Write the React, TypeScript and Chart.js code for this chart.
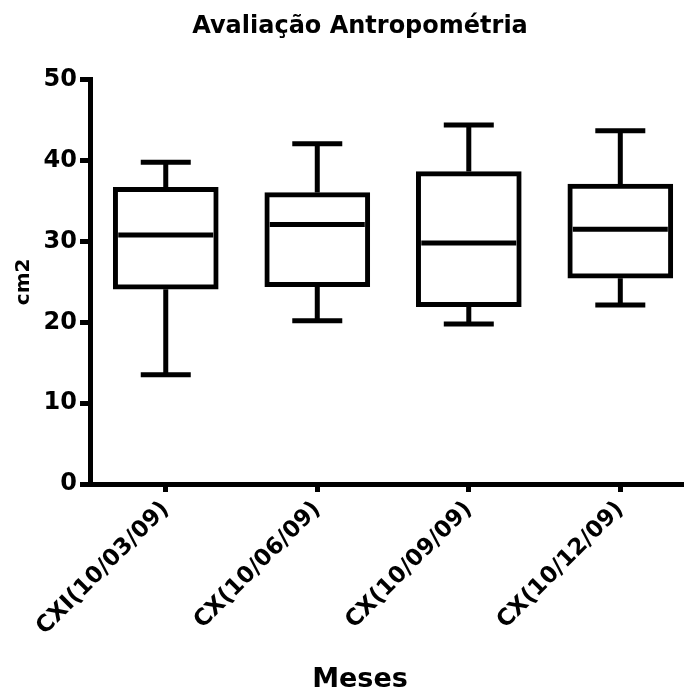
import React, { useEffect, useRef } from 'react';
import { Chart, registerables } from 'chart.js';

Chart.register(...registerables);

// ---- data ----
const categories = ['CXI(10/03/09)', 'CX(10/06/09)', 'CX(10/09/09)', 'CX(10/12/09)'];
const whiskerMin = [13.5, 20.2, 19.8, 22.15];
const quartile1 = [24.1, 24.4, 21.95, 25.45];
const medians = [30.8, 32.1, 29.8, 31.5];
const quartile3 = [36.7, 36.05, 38.65, 37.1];
const whiskerMax = [39.8, 42.1, 44.4, 43.7];
const yTickValues = [0, 10, 20, 30, 40, 50];

const FONT = "'DejaVu Sans', 'Liberation Sans', Arial, sans-serif";
const LINE = 5;
const BOX_WIDTH = 105;
const CAP_WIDTH = 50;

const boxPlotPlugin = {
  id: 'boxWhiskers',
  afterDatasetsDraw(chart: any) {
    const { ctx } = chart;
    const x = chart.scales.x;
    const y = chart.scales.y;
    ctx.save();
    ctx.strokeStyle = '#000';
    ctx.lineWidth = LINE;
    ctx.lineCap = 'butt';
    categories.forEach((_, i) => {
      const cx = x.getPixelForValue(i);
      const yMax = y.getPixelForValue(whiskerMax[i]);
      const yMin = y.getPixelForValue(whiskerMin[i]);
      const yQ3 = y.getPixelForValue(quartile3[i]);
      const yQ1 = y.getPixelForValue(quartile1[i]);
      const yMed = y.getPixelForValue(medians[i]);
      ctx.beginPath();
      ctx.moveTo(cx, yQ3);
      ctx.lineTo(cx, yMax);
      ctx.moveTo(cx, yQ1);
      ctx.lineTo(cx, yMin);
      ctx.moveTo(cx - CAP_WIDTH / 2, yMax);
      ctx.lineTo(cx + CAP_WIDTH / 2, yMax);
      ctx.moveTo(cx - CAP_WIDTH / 2, yMin);
      ctx.lineTo(cx + CAP_WIDTH / 2, yMin);
      ctx.moveTo(cx - BOX_WIDTH / 2 + LINE, yMed);
      ctx.lineTo(cx + BOX_WIDTH / 2 - LINE, yMed);
      ctx.stroke();
    });
    ctx.restore();
  },
  afterDraw(chart: any) {
    // continue the x axis line to the right edge of the canvas, as in the reference
    const { ctx, chartArea } = chart;
    const x = chart.scales.x;
    const yLine = typeof x._borderValue === 'number' ? x._borderValue : chart.scales.y.getPixelForValue(0);
    ctx.save();
    ctx.strokeStyle = '#000';
    ctx.lineWidth = LINE;
    ctx.lineCap = 'butt';
    ctx.beginPath();
    ctx.moveTo(chartArea.right - 3, yLine);
    ctx.lineTo(chart.width, yLine);
    ctx.stroke();
    ctx.restore();
  },
};

export default function App() {
  const canvasRef = useRef<HTMLCanvasElement | null>(null);

  useEffect(() => {
    const canvas = canvasRef.current;
    if (!canvas) return;
    const chart = new Chart(canvas, {
      type: 'bar',
      data: {
        datasets: [
          {
            data: categories.map((_, i) => ({ x: i, y: [quartile1[i], quartile3[i]] })) as any,
            backgroundColor: '#fff',
            borderColor: '#000',
            borderWidth: LINE,
            borderSkipped: false,
            barThickness: BOX_WIDTH,
            clip: false as any,
          },
        ],
      },
      options: {
        responsive: false,
        animation: false,
        devicePixelRatio: 1,
        layout: { padding: { left: 0, right: 54, top: 0, bottom: 0 } },
        plugins: {
          legend: { display: false },
          tooltip: { enabled: false },
          title: {
            display: true,
            fullSize: false,
            text: 'Avaliação Antropométria',
            color: '#000',
            font: { family: FONT, size: 24, weight: 'bold' },
            padding: { top: 12, bottom: 39 },
          },
        },
        scales: {
          x: {
            type: 'linear',
            min: -0.5,
            max: 3.064,
            offset: false,
            afterBuildTicks: (scale: any) => {
              scale.ticks = categories.map((_, i) => ({ value: i }));
            },
            afterFit: (scale: any) => {
              scale.height = 211;
            },
            ticks: {
              autoSkip: false,
              maxRotation: 45,
              minRotation: 45,
              padding: 4,
              color: '#000',
              font: { family: FONT, size: 23, weight: 'bold' },
              callback: (value: any) => categories[Number(value)] ?? '',
            },
            grid: {
              offset: false,
              drawOnChartArea: false,
              drawTicks: true,
              tickLength: 8,
              tickWidth: LINE,
              tickColor: '#000',
              color: '#000',
            },
            border: { display: true, color: '#000', width: LINE },
            title: {
              display: true,
              text: 'Meses',
              color: '#000',
              font: { family: FONT, size: 27, weight: 'bold', lineHeight: 1 },
              padding: { top: 0, bottom: 2 },
            },
          },
          y: {
            type: 'linear',
            min: 0,
            max: 50,
            afterBuildTicks: (scale: any) => {
              scale.ticks = yTickValues.map((v) => ({ value: v }));
            },
            afterFit: (scale: any) => {
              scale.width = 90;
            },
            ticks: {
              color: '#000',
              padding: 3,
              font: { family: FONT, size: 24, weight: 'bold' },
            },
            grid: {
              drawOnChartArea: false,
              drawTicks: true,
              tickLength: 10,
              tickWidth: LINE,
              tickColor: '#000',
              color: '#000',
            },
            border: { display: true, color: '#000', width: LINE },
            title: {
              display: true,
              text: 'cm2',
              color: '#000',
              font: { family: FONT, size: 20, weight: 'bold' },
              padding: { top: 12, bottom: 0 },
            },
          },
        },
      },
      plugins: [boxPlotPlugin],
    });
    return () => chart.destroy();
  }, []);

  return (
    <div style={{ position: 'fixed', left: 0, top: 0, width: 684, height: 695, background: '#fff' }}>
      <canvas ref={canvasRef} width={684} height={695} />
    </div>
  );
}
